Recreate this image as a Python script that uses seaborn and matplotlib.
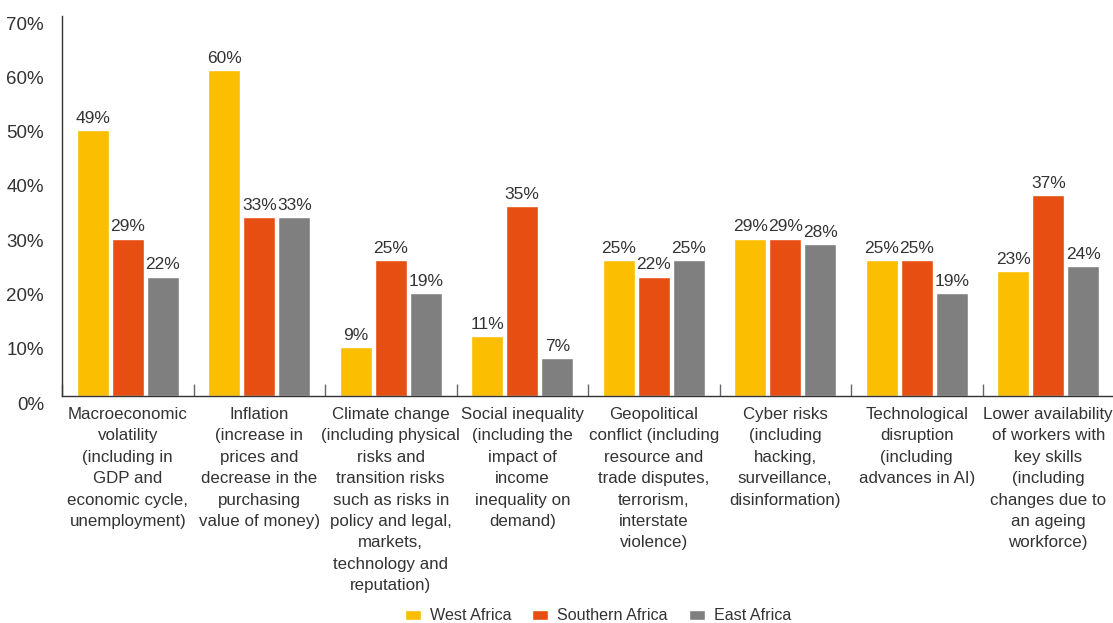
import matplotlib
matplotlib.use("Agg")
import matplotlib.pyplot as plt
import matplotlib.transforms as mtransforms
import seaborn as sns
import pandas as pd
import numpy as np

categories = [
    "Macroeconomic\nvolatility\n(including in\nGDP and\neconomic cycle,\nunemployment)",
    "Inflation\n(increase in\nprices and\ndecrease in the\npurchasing\nvalue of money)",
    "Climate change\n(including physical\nrisks and\ntransition risks\nsuch as risks in\npolicy and legal,\nmarkets,\ntechnology and\nreputation)",
    "Social inequality\n(including the\nimpact of\nincome\ninequality on\ndemand)",
    "Geopolitical\nconflict (including\nresource and\ntrade disputes,\nterrorism,\ninterstate\nviolence)",
    "Cyber risks\n(including\nhacking,\nsurveillance,\ndisinformation)",
    "Technological\ndisruption\n(including\nadvances in AI)",
    "Lower availability\nof workers with\nkey skills\n(including\nchanges due to\nan ageing\nworkforce)",
]
regions = ["West Africa", "Southern Africa", "East Africa"]
west = [49, 60, 9, 11, 25, 29, 25, 23]
southern = [29, 33, 25, 35, 22, 29, 25, 37]
east = [22, 33, 19, 7, 25, 28, 19, 24]
yticks = [0, 10, 20, 30, 40, 50, 60, 70]
colors = ["#FBBE00", "#E64E12", "#7F7F7F"]

rows = []
for reg, vals in zip(regions, [west, southern, east]):
    for c, v in zip(categories, vals):
        rows.append({"category": c, "region": reg, "value": v})
df = pd.DataFrame(rows)

sns.set_style("white")
plt.rcParams["font.family"] = ["Liberation Sans", "DejaVu Sans"]
text_color = "#333333"

fig = plt.figure(figsize=(11.13, 6.23), dpi=100)
ax = fig.add_axes([62 / 1113, 1 - 396 / 623, (1114 - 62) / 1113, (396 - 16) / 623])

sns.barplot(data=df, x="category", y="value", hue="region", order=categories,
            hue_order=regions, palette=colors, width=0.8, gap=0.08,
            saturation=1, ax=ax, legend=True, errorbar=None)

for cont in ax.containers:
    ax.bar_label(cont, labels=[f"{int(round(v))}%" for v in cont.datavalues],
                 padding=3, fontsize=12.5, color=text_color)

ax.set_ylim(0, 70)
ax.set_xlim(-0.5, len(categories) - 0.5)
ax.set_yticks(yticks)
ax.set_yticklabels([f"{t}%" for t in yticks], fontsize=13.5, color=text_color)
ax.tick_params(axis="y", length=0, pad=13)
offset = mtransforms.ScaledTranslation(0, -7 / 100, fig.dpi_scale_trans)
for lab in ax.get_yticklabels():
    lab.set_transform(lab.get_transform() + offset)

ax.set_xticks(range(len(categories)))
ax.set_xticklabels(categories, fontsize=12.2, color=text_color, linespacing=1.53,
                   va="top")
ax.tick_params(axis="x", which="major", length=0, pad=8)
ax.set_xticks(np.arange(-0.5, len(categories), 1.0), minor=True)
ax.tick_params(axis="x", which="minor", bottom=True, direction="in", length=9,
               width=1, color="#666666")

ax.set_xlabel("")
ax.set_ylabel("")
for s in ["top", "right"]:
    ax.spines[s].set_visible(False)
for s in ["left", "bottom"]:
    ax.spines[s].set_color("#333333")
    ax.spines[s].set_linewidth(1.0)

handles, labels = ax.get_legend_handles_labels()
ax.get_legend().remove()
fig.legend(handles, labels, loc="center", bbox_to_anchor=(598 / 1113, 1 - 616 / 623),
           ncol=3, frameon=False, fontsize=11.6, handlelength=1.0, handleheight=0.6,
           columnspacing=1.3, handletextpad=0.55, labelcolor=text_color)

fig.savefig("out.png", dpi=100)
